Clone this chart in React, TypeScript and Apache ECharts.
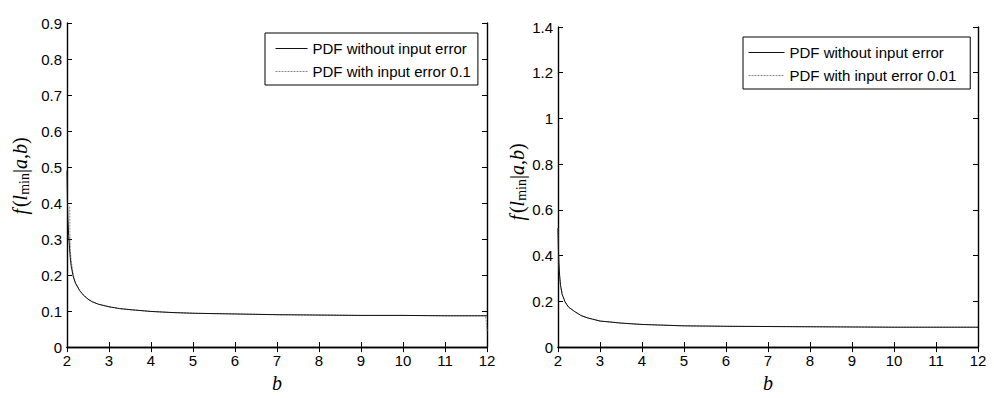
import React, { useEffect, useRef } from "react";
import * as echarts from "echarts";

// ---- data ----
const bLeft = [2, 2.01, 2.02, 2.04, 2.06, 2.08, 2.1, 2.15, 2.2, 2.3, 2.4, 2.5, 2.6, 2.75, 3, 3.25, 3.5, 4, 4.5, 5, 6, 7, 8, 9, 10, 11, 12];
const leftNoError = [0.49, 0.41, 0.36, 0.31, 0.275, 0.245, 0.225, 0.195, 0.178, 0.157, 0.143, 0.133, 0.126, 0.119, 0.112, 0.107, 0.104, 0.099, 0.096, 0.094, 0.092, 0.09, 0.089, 0.088, 0.088, 0.087, 0.087];
const bLeftErr = [2.065, 2.07, 2.08, 2.1, 2.15, 2.2, 2.3, 2.4, 2.5, 2.6, 2.75, 3, 3.25, 3.5, 4, 4.5, 5, 6, 7, 8, 9, 10, 11, 11.97, 12];
const leftWithError = [0.39, 0.31, 0.27, 0.24, 0.2, 0.179, 0.158, 0.144, 0.134, 0.126, 0.119, 0.112, 0.107, 0.104, 0.099, 0.096, 0.094, 0.092, 0.09, 0.089, 0.088, 0.088, 0.087, 0.087, 0.045];

const bRight = [2, 2.01, 2.02, 2.04, 2.06, 2.1, 2.17, 2.25, 2.4, 2.55, 2.7, 3, 3.5, 4, 4.5, 5, 6, 7, 8, 9, 10, 11, 12];
const rightNoError = [0.52, 0.43, 0.37, 0.31, 0.27, 0.23, 0.197, 0.175, 0.155, 0.138, 0.128, 0.114, 0.105, 0.099, 0.096, 0.093, 0.091, 0.09, 0.089, 0.088, 0.087, 0.087, 0.087];
const rightWithError = [0.52, 0.43, 0.37, 0.31, 0.27, 0.23, 0.197, 0.175, 0.155, 0.138, 0.128, 0.114, 0.105, 0.099, 0.096, 0.093, 0.091, 0.09, 0.089, 0.088, 0.087, 0.087, 0.087];

const xTicks = { min: 2, max: 12, interval: 1 };
const yLeft = { min: 0, max: 0.9, interval: 0.1 };
const yRight = { min: 0, max: 1.4, interval: 0.2 };

const nameSolid = "PDF without input error";
const nameLeftErr = "PDF with input error 0.1";
const nameRightErr = "PDF with input error 0.01";

const pair = (xs: number[], ys: number[]) => xs.map((x, i) => [x, ys[i]]);

const SANS = "'Liberation Sans', Arial, sans-serif";
const SERIF = "'Liberation Serif', 'Times New Roman', serif";

export default function App() {
  const ref = useRef<HTMLDivElement>(null);
  useEffect(() => {
    if (!ref.current) return;
    const chart = echarts.init(ref.current, null, { renderer: "svg" });
    const axisLine = { show: true, lineStyle: { color: "#000", width: 1.4 } };
    const tick = { show: true, inside: true, length: 5, lineStyle: { color: "#000", width: 1 } };
    const label = { color: "#000", fontFamily: SANS, fontSize: 15 };
    const mkX = (gi: number) => [
      {
        type: "value", gridIndex: gi, ...xTicks, position: "bottom",
        axisLine, axisTick: tick, splitLine: { show: false },
        axisLabel: { ...label, margin: 6 },
        name: "b", nameLocation: "middle", nameGap: 16,
        nameTextStyle: { fontFamily: SERIF, fontStyle: "italic", fontSize: 20, color: "#000" },
      },
      {
        type: "value", gridIndex: gi, ...xTicks, position: "top",
        axisLine, axisTick: tick, splitLine: { show: false }, axisLabel: { show: false },
      },
    ];
    const mkY = (gi: number, r: any) => [
      {
        type: "value", gridIndex: gi, ...r, position: "left",
        axisLine, axisTick: tick, splitLine: { show: false },
        axisLabel: { ...label, margin: 5 },
      },
      {
        type: "value", gridIndex: gi, ...r, position: "right",
        axisLine, axisTick: tick, splitLine: { show: false }, axisLabel: { show: false },
      },
    ];
    const rich = {
      i: { fontFamily: SERIF, fontStyle: "italic", fontSize: 20, fill: "#000" },
      r: { fontFamily: SERIF, fontSize: 20, fill: "#000" },
      sp: { fontFamily: SERIF, fontSize: 8, fill: "#000" },
      s: { fontFamily: SERIF, fontSize: 14, fill: "#000", padding: [9, 0, 0, 0] },
    };
    const yName = "{i|f}{sp| }{r|(}{i|l}{s|min}{r||}{i|a}{r|,}{i|b}{r|)}";
    const legendBase = {
      orient: "vertical",
      show: true,
      borderColor: "#000",
      borderWidth: 1,
      backgroundColor: "#fff",
      itemHeight: 12,
      itemGap: 8,
      itemStyle: { opacity: 0, borderWidth: 0 },
      lineStyle: { width: 1 },
      textStyle: { color: "#000", fontFamily: SANS, fontSize: 15 },
    };
    chart.setOption({
      animation: false,
      backgroundColor: "#fff",
      grid: [
        { left: 67, top: 23, width: 420, height: 339 },
        { left: 558, top: 27, width: 420, height: 333 },
      ],
      xAxis: [...mkX(0), ...mkX(1)],
      yAxis: [...mkY(0, yLeft), ...mkY(1, yRight)],
      legend: [
        { ...legendBase, left: 265, top: 33, itemWidth: 32, padding: [8, 7, 6, 10], data: [nameSolid, nameLeftErr] },
        { ...legendBase, left: 743, top: 37, itemWidth: 36, padding: [8, 14, 6, 5], data: [nameSolid, nameRightErr] },
      ],
      graphic: [
        {
          type: "text", x: 20, y: 176, rotation: Math.PI / 2,
          style: { text: yName, rich, align: "center", verticalAlign: "middle" },
        },
        {
          type: "text", x: 517, y: 182, rotation: Math.PI / 2,
          style: { text: yName, rich, align: "center", verticalAlign: "middle" },
        },
      ],
      series: [
        {
          name: nameLeftErr, type: "line", xAxisIndex: 0, yAxisIndex: 0, symbol: "none", z: 2,
          data: pair(bLeftErr, leftWithError),
          lineStyle: { color: "#8a8a8a", width: 1, type: [2, 1] },
          itemStyle: { color: "#8a8a8a" },
        },
        {
          name: nameSolid, type: "line", xAxisIndex: 0, yAxisIndex: 0, symbol: "none", z: 3,
          data: pair(bLeft, leftNoError),
          lineStyle: { color: "#111", width: 1 },
          itemStyle: { color: "#111" },
        },
        {
          name: nameRightErr, type: "line", xAxisIndex: 2, yAxisIndex: 2, symbol: "none", z: 2,
          data: pair(bRight, rightWithError),
          lineStyle: { color: "#8a8a8a", width: 1, type: [2, 1] },
          itemStyle: { color: "#8a8a8a" },
        },
        {
          name: nameSolid, type: "line", xAxisIndex: 2, yAxisIndex: 2, symbol: "none", z: 3,
          data: pair(bRight, rightNoError),
          lineStyle: { color: "#111", width: 1 },
          itemStyle: { color: "#111" },
        },
      ],
    });
    return () => chart.dispose();
  }, []);
  return (
    <div
      ref={ref}
      style={{ position: "fixed", left: 0, top: 0, width: 994, height: 398, background: "#fff" }}
    />
  );
}
